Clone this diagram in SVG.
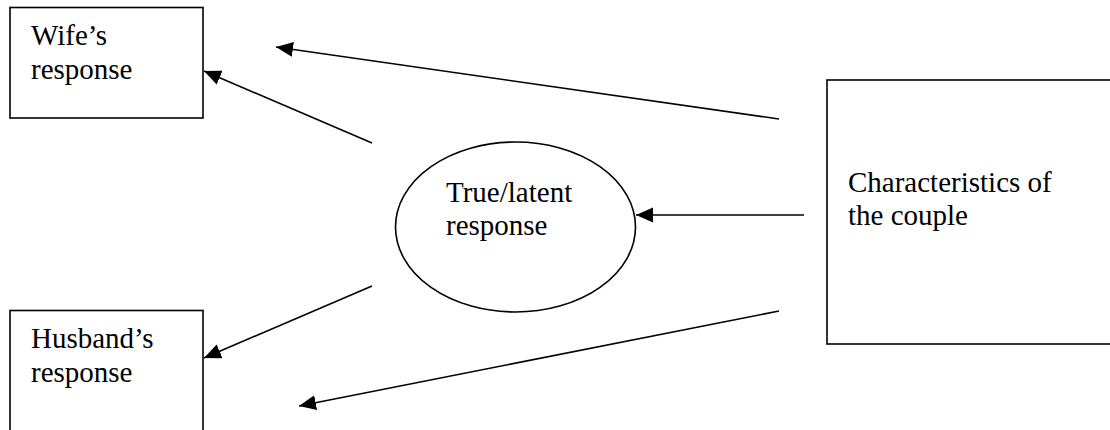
<svg xmlns="http://www.w3.org/2000/svg" width="1110" height="430" viewBox="0 0 1110 430">
  <defs>
    <marker id="arrow" markerUnits="userSpaceOnUse" markerWidth="18" markerHeight="16" refX="17" refY="7.5" orient="auto" viewBox="0 0 18 16">
      <path d="M0,0 L17,7.5 L0,15 z" fill="#000"/>
    </marker>
    <style>
      .node { fill: #fff; stroke: #000; stroke-width: 1.6; }
      .label { font-size: 29px; fill: #000; }
      .conn { stroke: #000; stroke-width: 1.6; fill: none; marker-end: url(#arrow); }
    </style>
  </defs>
  <rect width="1110" height="430" fill="#fff"/>

  <g id="connectors">
    <line class="conn" x1="779" y1="119" x2="276" y2="47"/>
    <line class="conn" x1="372" y1="143" x2="204" y2="71"/>
    <line class="conn" x1="804" y1="215" x2="636" y2="215"/>
    <line class="conn" x1="372" y1="286" x2="204" y2="358"/>
    <line class="conn" x1="779" y1="311" x2="299" y2="406"/>
  </g>

  <g id="wife">
    <rect class="node" x="10" y="7.5" width="193" height="110.5"/>
    <text class="label" font-family="Liberation Serif, serif" x="31" y="45">Wife’s</text>
    <text class="label" font-family="Liberation Serif, serif" x="31" y="79">response</text>
  </g>

  <g id="husband">
    <rect class="node" x="10" y="310.5" width="193" height="125"/>
    <text class="label" font-family="Liberation Serif, serif" x="31" y="348">Husband’s</text>
    <text class="label" font-family="Liberation Serif, serif" x="31" y="382">response</text>
  </g>

  <g id="latent">
    <ellipse class="node" cx="515.5" cy="227" rx="120" ry="85"/>
    <text class="label" font-family="Liberation Serif, serif" x="446" y="202">True/latent</text>
    <text class="label" font-family="Liberation Serif, serif" x="446" y="235">response</text>
  </g>

  <g id="couple">
    <rect class="node" x="827" y="80" width="300" height="264"/>
    <text class="label" font-family="Liberation Serif, serif" x="848" y="192">Characteristics of</text>
    <text class="label" font-family="Liberation Serif, serif" x="848" y="225">the couple</text>
  </g>
</svg>
